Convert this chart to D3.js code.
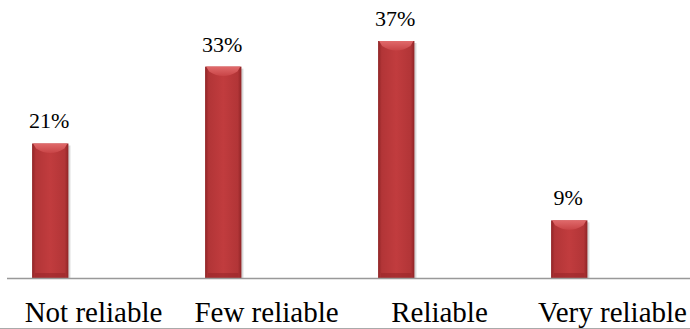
<!DOCTYPE html>
<html>
<head>
<meta charset="utf-8">
<script src="https://cdn.jsdelivr.net/npm/d3@7"></script>
<style>
  body { margin: 0; background: #fff; }
  svg { display: block; }
</style>
</head>
<body>
<svg></svg>
<script>
const categories = ['Not reliable', 'Few reliable', 'Reliable', 'Very reliable']
const values = [21, 33, 37, 9]

const width = 690, height = 329
const baseY = 278
const serif = "'Liberation Serif', 'Times New Roman', serif"

const svg = d3.select('svg')
    .attr('width', width)
    .attr('height', height)

const defs = svg.append('defs')

const grad = defs.append('linearGradient')
    .attr('id', 'barGrad')
    .attr('x1', '0%').attr('x2', '100%')
    .attr('y1', '0%').attr('y2', '0%')
grad.selectAll('stop')
    .data([[0, '#8f2426'], [0.1, '#b23537'], [0.5, '#c13c3e'], [0.9, '#b23537'], [1, '#8f2426']])
    .join('stop')
    .attr('offset', d => d[0])
    .attr('stop-color', d => d[1])

const topGrad = defs.append('linearGradient')
    .attr('id', 'topGrad')
    .attr('x1', '0%').attr('x2', '0%')
    .attr('y1', '0%').attr('y2', '100%')
topGrad.selectAll('stop')
    .data([[0, '#e06a6b'], [1, '#c84446']])
    .join('stop')
    .attr('offset', d => d[0])
    .attr('stop-color', d => d[1])

const x = d3.scaleBand()
    .domain(categories)
    .range([7, 699])

const y = d3.scaleLinear()
    .domain([0, 37])
    .range([baseY, 41])

const barW = x.bandwidth() * 0.21
const barX = d => x(d) + x.bandwidth() * 0.145

const data = categories.map((c, i) => ({cat: c, value: values[i]}))

// soft shadow
svg.append('g')
    .selectAll('rect')
    .data(data)
    .join('rect')
    .attr('x', d => barX(d.cat) + 2)
    .attr('y', d => y(d.value) + 2)
    .attr('width', barW)
    .attr('height', d => baseY - y(d.value) - 2)
    .attr('fill', '#d8d8d8')

const bars = svg.append('g')
    .selectAll('g')
    .data(data)
    .join('g')

bars.append('rect')
    .attr('x', d => barX(d.cat))
    .attr('y', d => y(d.value))
    .attr('width', barW)
    .attr('height', d => baseY - y(d.value))
    .attr('fill', 'url(#barGrad)')

// top bevel
bars.append('path')
    .attr('fill', 'url(#topGrad)')
    .attr('d', d => {
        const x0 = barX(d.cat), x1 = x0 + barW, t = y(d.value)
        return `M${x0 + 1},${t} L${x1 - 1},${t} L${x1 - 4},${t + 5} Q${(x0 + x1) / 2},${t + 14} ${x0 + 4},${t + 5} Z`
    })

// bottom bevel
bars.append('rect')
    .attr('x', d => barX(d.cat) + 3)
    .attr('y', baseY - 5)
    .attr('width', barW - 6)
    .attr('height', 5)
    .attr('fill', '#9a2729')
    .attr('opacity', 0.6)

// value labels
svg.append('g')
    .selectAll('text')
    .data(data)
    .join('text')
    .attr('x', d => barX(d.cat) + barW / 2 - 1)
    .attr('y', d => y(d.value) - 15)
    .attr('text-anchor', 'middle')
    .style('font-family', serif)
    .style('font-size', '22px')
    .attr('fill', '#000')
    .text(d => d.value + '%')

// axis line
svg.append('line')
    .attr('x1', 7).attr('x2', width)
    .attr('y1', baseY + 0.5).attr('y2', baseY + 0.5)
    .attr('stroke', '#999')
    .attr('stroke-width', 1.5)

// category labels
svg.append('g')
    .selectAll('text')
    .data(categories)
    .join('text')
    .attr('x', d => x(d) + x.bandwidth() / 2)
    .attr('y', 322)
    .attr('text-anchor', 'middle')
    .style('font-family', serif)
    .style('font-size', '29px')
    .attr('fill', '#000')
    .text(d => d)

// bottom frame line
svg.append('line')
    .attr('x1', 0).attr('x2', width)
    .attr('y1', 328.5).attr('y2', 328.5)
    .attr('stroke', '#aaa')
    .attr('stroke-width', 1)
</script>
</body>
</html>
